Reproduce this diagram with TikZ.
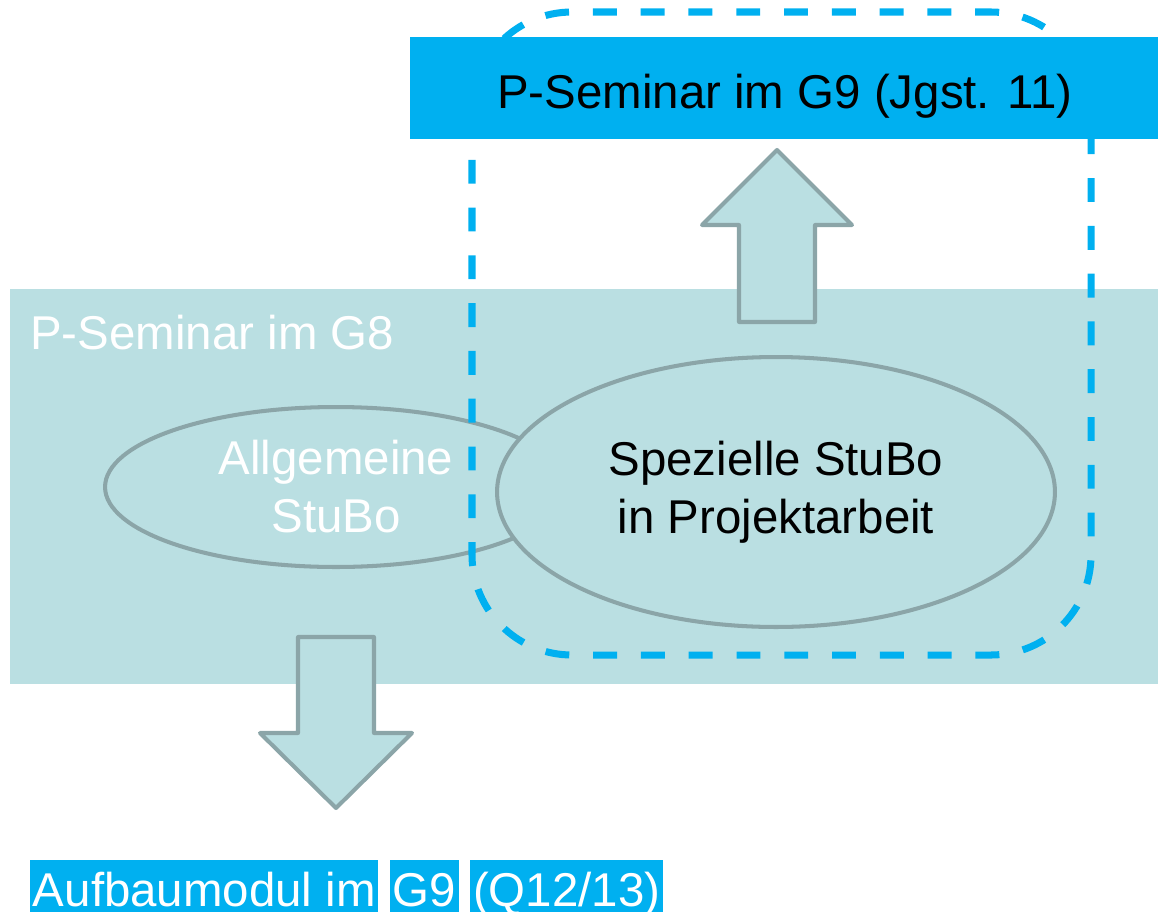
\documentclass[tikz,border=0pt]{standalone}
\usepackage{fontspec}
\setmainfont{Liberation Sans}
\usetikzlibrary{shapes.geometric,positioning}
\definecolor{stuboblue}{HTML}{00B0F0}
\definecolor{bandteal}{HTML}{BADFE2}
\definecolor{rimgray}{HTML}{8BA5A8}
\begin{document}
\begin{tikzpicture}[x=0.02cm,y=-0.02cm,
 font=\fontsize{27}{33}\selectfont,
 ell/.style={ellipse,draw=rimgray,fill=bandteal,line width=2.3pt,align=center,inner sep=0pt},
 blockarrow/.style={draw=rimgray,fill=bandteal,line width=2.3pt,line join=round},
 hilite/.style={fill=stuboblue,text=white,inner xsep=1.5pt,inner ysep=0pt,text height=0.92cm,text depth=0.12cm}]
 \useasboundingbox (0,0) rectangle (1158,913);
 % band G8
 \fill[bandteal] (10,289) rectangle (1158,684);
 \node[anchor=base west,text=white,inner sep=0pt] (g8) at (30,349) {P-Seminar im G8};
 \node[ell,text=white,minimum width=9.24cm,minimum height=3.2cm] (allg) at (336,487) {Allgemeine\\StuBo};
 \node[ell,minimum width=11.16cm,minimum height=5.4cm] (spez) at (776,492) {Spezielle StuBo\\in Projektarbeit};
 % dashed frame
 \draw[stuboblue,line width=4pt,dash pattern=on 13.6pt off 13.6pt,rounded corners=2cm] (472,12) rectangle (1091,655);
 % G9 bar
 \fill[stuboblue] (410,37) rectangle (1158,139);
 \node[anchor=base,inner sep=0pt] (g9) at (785,108) {P-Seminar im G9 (Jgst. 11)};
 % arrows
 \draw[blockarrow] (739,322) -- (739,225) -- (702,225) -- (777,150) -- (852,225) -- (815,225) -- (815,322) -- cycle;
 \draw[blockarrow] (298,637) -- (374,637) -- (374,733) -- (412,733) -- (336,808) -- (260,733) -- (298,733) -- cycle;
 % Aufbaumodul
 \node[hilite,anchor=base west] (auf) at (30,906) {Aufbaumodul im};
 \node[hilite,base right=0.22cm of auf] (g9b) {G9};
 \node[hilite,base right=0.22cm of g9b] (q) {(Q12/13)};
\end{tikzpicture}
\end{document}
